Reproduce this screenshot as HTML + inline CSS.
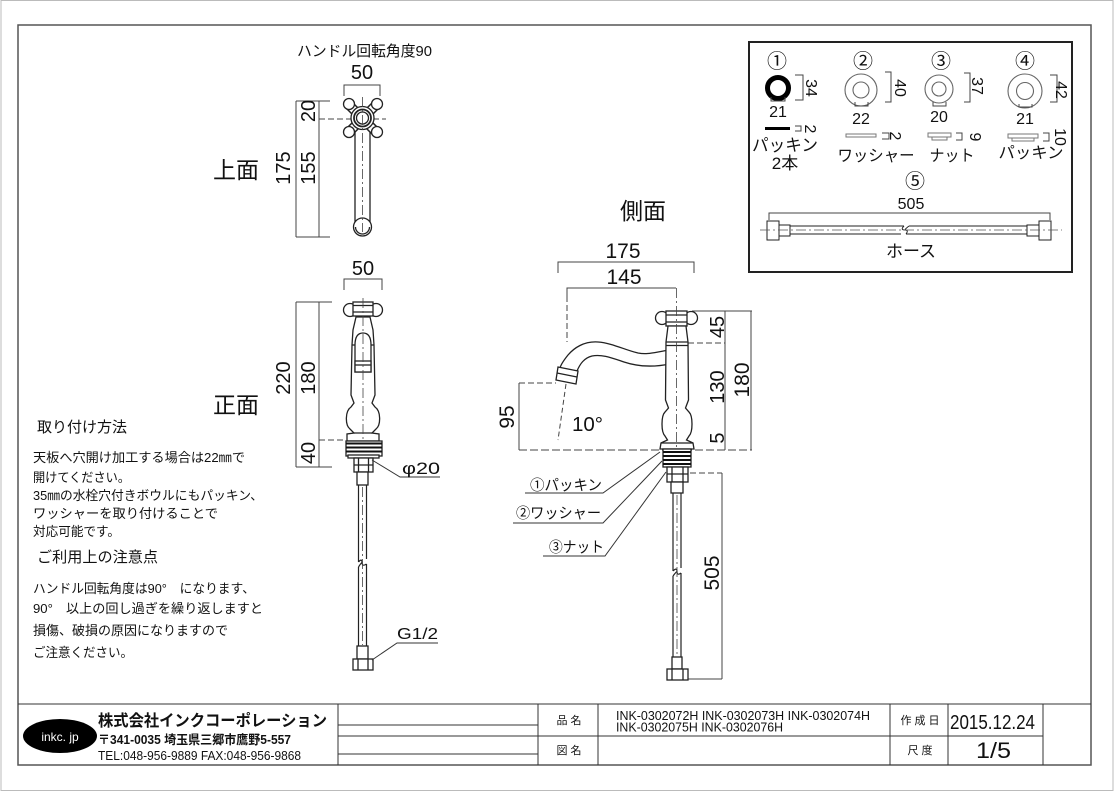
<!DOCTYPE html>
<html><head><meta charset="utf-8">
<style>
html,body{margin:0;padding:0;background:#fff;}
svg{display:block;}
text{font-family:"Liberation Sans","Noto Sans CJK JP",sans-serif;fill:#111;}
</style></head><body>
<svg width="1120" height="792" viewBox="0 0 1120 792" xmlns="http://www.w3.org/2000/svg">
<!-- frames -->
<rect x="1" y="0.5" width="1112" height="790" fill="none" stroke="#bbb" stroke-width="1"/>
<rect x="18" y="25" width="1073" height="740" fill="none" stroke="#555" stroke-width="1.5"/>

<!-- ===== Title block ===== -->
<g stroke="#333" stroke-width="1" fill="none">
<line x1="18" y1="704" x2="1091" y2="704"/>
<line x1="338" y1="704" x2="338" y2="765"/>
<line x1="538" y1="704" x2="538" y2="765"/>
<line x1="598" y1="704" x2="598" y2="765"/>
<line x1="890" y1="704" x2="890" y2="765"/>
<line x1="948" y1="704" x2="948" y2="765"/>
<line x1="1043" y1="704" x2="1043" y2="765"/>
<line x1="338" y1="725" x2="538" y2="725"/>
<line x1="338" y1="736" x2="1043" y2="736"/>
<line x1="338" y1="754" x2="538" y2="754"/>
</g>
<ellipse cx="60" cy="736" rx="37" ry="17" fill="#000"/>
<text x="60" y="741" fill="#fff" style="fill:#fff" font-size="12" text-anchor="middle">inkc. jp</text>
<text x="98" y="726" font-size="16" font-weight="bold" textLength="229" lengthAdjust="spacingAndGlyphs">株式会社インクコーポレーション</text>
<text x="98" y="744" font-size="12.5" font-weight="bold" textLength="193" lengthAdjust="spacingAndGlyphs">〒341-0035 埼玉県三郷市鷹野5-557</text>
<text x="98" y="760" font-size="12.5" textLength="203" lengthAdjust="spacingAndGlyphs">TEL:048-956-9889  FAX:048-956-9868</text>
<text x="569" y="724" font-size="11" text-anchor="middle">品 名</text>
<text x="569" y="754" font-size="11" text-anchor="middle">図 名</text>
<text x="616" y="720" font-size="12.5" textLength="254" lengthAdjust="spacingAndGlyphs">INK-0302072H INK-0302073H INK-0302074H</text>
<text x="616" y="731.5" font-size="12.5" textLength="167" lengthAdjust="spacingAndGlyphs">INK-0302075H INK-0302076H</text>
<text x="920" y="724" font-size="11" text-anchor="middle">作 成 日</text>
<text x="920" y="754" font-size="11" text-anchor="middle">尺 度</text>
<text x="950" y="729" font-size="20" textLength="85" lengthAdjust="spacingAndGlyphs">2015.12.24</text>
<text x="976" y="758" font-size="22" textLength="35" lengthAdjust="spacingAndGlyphs">1/5</text>

<!-- ===== Notes ===== -->
<text x="37" y="432" font-size="15" textLength="90" lengthAdjust="spacingAndGlyphs">取り付け方法</text>
<text x="33" y="462" font-size="13" textLength="212" lengthAdjust="spacingAndGlyphs">天板へ穴開け加工する場合は22㎜で</text>
<text x="33" y="482" font-size="13" textLength="97" lengthAdjust="spacingAndGlyphs">開けてください。</text>
<text x="33" y="500" font-size="13" textLength="230" lengthAdjust="spacingAndGlyphs">35㎜の水栓穴付きボウルにもパッキン、</text>
<text x="33" y="518" font-size="13" textLength="185" lengthAdjust="spacingAndGlyphs">ワッシャーを取り付けることで</text>
<text x="33" y="536" font-size="13" textLength="87" lengthAdjust="spacingAndGlyphs">対応可能です。</text>
<text x="37" y="562" font-size="15" textLength="121" lengthAdjust="spacingAndGlyphs">ご利用上の注意点</text>
<text x="33" y="593" font-size="13" textLength="222" lengthAdjust="spacingAndGlyphs">ハンドル回転角度は90°　になります、</text>
<text x="33" y="613" font-size="13" textLength="230" lengthAdjust="spacingAndGlyphs">90°　以上の回し過ぎを繰り返しますと</text>
<text x="33" y="635" font-size="13" textLength="195" lengthAdjust="spacingAndGlyphs">損傷、破損の原因になりますので</text>
<text x="33" y="657" font-size="13" textLength="100" lengthAdjust="spacingAndGlyphs">ご注意ください。</text>

<!-- ===== Top view ===== -->
<text x="297" y="56" font-size="15" textLength="135" lengthAdjust="spacingAndGlyphs">ハンドル回転角度90</text>
<text x="362" y="79" font-size="20" text-anchor="middle">50</text>
<text x="213" y="178" font-size="23" textLength="46" lengthAdjust="spacingAndGlyphs">上面</text>
<g stroke="#444" stroke-width="1" fill="none">
<path d="M344,96 V85 H380 V96"/>
<line x1="296" y1="101" x2="296" y2="237"/>
<line x1="319" y1="101" x2="319" y2="237"/>
<line x1="296" y1="101" x2="330" y2="101"/>
<line x1="296" y1="237" x2="330" y2="237"/>
<line x1="319" y1="119" x2="386" y2="119" stroke-dasharray="6 3"/>
</g>
<text transform="translate(283,168) rotate(-90)" x="0" y="7" font-size="20" text-anchor="middle">175</text>
<text transform="translate(308,168) rotate(-90)" x="0" y="7" font-size="20" text-anchor="middle">155</text>
<text transform="translate(308,111) rotate(-90)" x="0" y="7" font-size="20" text-anchor="middle">20</text>
<g stroke="#222" stroke-width="1.3" fill="#fff">
<rect x="355" y="126" width="15" height="98"/>
<circle cx="362.5" cy="227" r="9"/>
<path d="M355.5,227 A7,7 0 0 0 369.5,227" fill="none"/>
<line x1="349" y1="105" x2="376" y2="132" stroke-width="10"/>
<line x1="376" y1="105" x2="349" y2="132" stroke-width="10"/>
<line x1="349" y1="105" x2="376" y2="132" stroke="#fff" stroke-width="7"/>
<line x1="376" y1="105" x2="349" y2="132" stroke="#fff" stroke-width="7"/>
<circle cx="349" cy="104" r="5.5"/>
<circle cx="377" cy="104" r="5.5"/>
<circle cx="349" cy="132" r="5.5"/>
<circle cx="377" cy="132" r="5.5"/>
<circle cx="362.5" cy="118" r="11.5"/>
<circle cx="362.5" cy="118" r="8.5" stroke-width="1.8"/>
<circle cx="362.5" cy="118" r="6"/>
</g>
<line x1="362.5" y1="97" x2="362.5" y2="232" stroke="#444" stroke-width="0.8" stroke-dasharray="10 3 2 3"/>

<!-- ===== Front view ===== -->
<text x="363" y="275" font-size="20" text-anchor="middle">50</text>
<text x="213" y="413" font-size="23" textLength="46" lengthAdjust="spacingAndGlyphs">正面</text>
<g stroke="#444" stroke-width="1" fill="none">
<path d="M344,290 V279 H382 V290"/>
<line x1="296" y1="302" x2="296" y2="467"/>
<line x1="319" y1="302" x2="319" y2="467"/>
<line x1="296" y1="302" x2="332" y2="302"/>
<line x1="296" y1="467" x2="332" y2="467"/>
<line x1="319" y1="440" x2="346" y2="440" stroke-dasharray="6 3"/>
</g>
<text transform="translate(283,378) rotate(-90)" x="0" y="7" font-size="20" text-anchor="middle">220</text>
<text transform="translate(308,378) rotate(-90)" x="0" y="7" font-size="20" text-anchor="middle">180</text>
<text transform="translate(308,453) rotate(-90)" x="0" y="7" font-size="20" text-anchor="middle">40</text>
<g stroke="#222" stroke-width="1.3" fill="#fff">
<circle cx="350" cy="310" r="6.5"/>
<circle cx="376" cy="310" r="6.5"/>
<rect x="353" y="302" width="20" height="14"/>
<line x1="353" y1="305.5" x2="373" y2="305.5"/>
<line x1="353" y1="312" x2="373" y2="312"/>
<path d="M356,317 L370,317 L373,330 L374,345 L375,395 L372,403 L375,407 C381,411 381,425 376,429 L372,433 L379,434 L379,441 L347,441 L347,434 L354,433 L350,429 C345,425 345,411 351,407 L354,403 L351,395 L352,345 L353,330 Z"/>
<line x1="352" y1="345" x2="374" y2="345"/>
<line x1="354" y1="433" x2="372" y2="433"/>
<path d="M355,372 L355,345 Q355,333 363,333 Q371,333 371,345 L371,372 Z"/>
<rect x="355" y="361" width="16" height="11"/>
<line x1="355" y1="365" x2="371" y2="365"/>
<rect x="346" y="441" width="36" height="15"/>
<rect x="348" y="455" width="31" height="3"/>
<rect x="354" y="458" width="19" height="14"/>
<line x1="358.5" y1="458" x2="358.5" y2="472"/>
<line x1="368.5" y1="458" x2="368.5" y2="472"/>
<line x1="354" y1="465" x2="373" y2="465"/>
<rect x="357" y="472" width="11" height="13"/>
<rect x="357" y="646" width="11" height="13"/>
<rect x="353" y="659" width="20" height="11"/>
<line x1="358" y1="659" x2="358" y2="670"/>
<line x1="368" y1="659" x2="368" y2="670"/>
</g>
<g stroke="#111" stroke-width="2">
<line x1="346" y1="443.5" x2="382" y2="443.5"/>
<line x1="346" y1="447.5" x2="382" y2="447.5"/>
<line x1="346" y1="451.5" x2="382" y2="451.5"/>
</g>
<g stroke="#222" stroke-width="1.2" fill="none">
<line x1="358.5" y1="485" x2="358.5" y2="562"/>
<line x1="366.5" y1="485" x2="366.5" y2="559"/>
<line x1="358.5" y1="567" x2="358.5" y2="646"/>
<line x1="366.5" y1="564" x2="366.5" y2="646"/>
<path d="M358.5,562 Q362,558 362,562.5 Q362,567 366.5,564"/>
<path d="M358.5,567 Q361,563 362,562.5"/>
</g>
<line x1="363" y1="298" x2="363" y2="440" stroke="#444" stroke-width="0.8" stroke-dasharray="10 3 2 3"/>
<line x1="362.5" y1="487" x2="362.5" y2="645" stroke="#444" stroke-width="0.8" stroke-dasharray="10 3 2 3"/>
<g stroke="#333" stroke-width="1" fill="none">
<polyline points="372,460 400,477 440,477"/>
<polyline points="372,660 397,643 438,643"/>
</g>
<text x="402" y="474" font-size="17" textLength="38" lengthAdjust="spacingAndGlyphs">φ20</text>
<text x="397" y="639" font-size="16" textLength="41" lengthAdjust="spacingAndGlyphs">G1/2</text>

<!-- ===== Side view ===== -->
<text x="620" y="219" font-size="23" textLength="46" lengthAdjust="spacingAndGlyphs">側面</text>
<text x="623" y="258" font-size="21" text-anchor="middle">175</text>
<text x="624" y="284" font-size="21" text-anchor="middle">145</text>
<g stroke="#444" stroke-width="1" fill="none">
<path d="M558,273 V262 H694 V273"/>
<path d="M567,296 V288 H676"/>
<line x1="567" y1="296" x2="567" y2="342" stroke-dasharray="6 3"/>
<line x1="519" y1="383" x2="556" y2="383" stroke-dasharray="6 3"/>
<line x1="519" y1="383" x2="519" y2="450"/>
<line x1="519" y1="450" x2="752" y2="450" stroke-dasharray="8 3"/>
<line x1="566" y1="384" x2="558" y2="440" stroke-dasharray="5 3"/>
<line x1="692" y1="311" x2="752" y2="311"/>
<line x1="725" y1="311" x2="725" y2="450"/>
<line x1="751" y1="311" x2="751" y2="450"/>
<line x1="688" y1="343" x2="725" y2="343" stroke-dasharray="6 3"/>
<line x1="690" y1="473" x2="722" y2="473" stroke-dasharray="6 3"/>
<line x1="722" y1="473" x2="722" y2="679"/>
<line x1="688" y1="679" x2="722" y2="679"/>
</g>
<text transform="translate(507,417) rotate(-90)" x="0" y="7" font-size="21" text-anchor="middle">95</text>
<text x="572" y="431" font-size="20" textLength="31" lengthAdjust="spacingAndGlyphs">10°</text>
<text transform="translate(717,327) rotate(-90)" x="0" y="7" font-size="20" text-anchor="middle">45</text>
<text transform="translate(717,387) rotate(-90)" x="0" y="7" font-size="20" text-anchor="middle">130</text>
<text transform="translate(717,438) rotate(-90)" x="0" y="7" font-size="20" text-anchor="middle">5</text>
<text transform="translate(742,380) rotate(-90)" x="0" y="7" font-size="21" text-anchor="middle">180</text>
<text transform="translate(712,573) rotate(-90)" x="0" y="7" font-size="21" text-anchor="middle">505</text>
<g stroke="#222" stroke-width="1.3" fill="#fff">
<path d="M670,350 C655,352 648,355 638,353 C625,350 612,343 598,342 C584,341 574,348 568,355 C564,360 561,364 560,368 L577,371 C580,364 584,358 592,356 C602,354 612,358 624,362 C636,366 650,368 670,364 Z"/>
<polygon points="558,367 578,371 576,384 556,380"/>
<line x1="557" y1="373" x2="577" y2="377"/>
<circle cx="662" cy="318" r="6.5"/>
<circle cx="691" cy="318" r="6.5"/>
<rect x="666" y="311" width="21" height="15"/>
<line x1="666" y1="315" x2="687" y2="315"/>
<line x1="666" y1="322" x2="687" y2="322"/>
<path d="M668,326 L686,326 L688,342 L688.5,400 L685.5,408 L689,412 C693,416 693,432 689,436 L686.5,440 L693,443 L694,449 L660,449 L661,443 L667.5,440 L665,436 C661,432 661,416 665,412 L668.5,408 L665.5,400 L666,342 Z"/>
<line x1="666" y1="342" x2="688" y2="342"/>
<line x1="666" y1="345.5" x2="688" y2="345.5"/>
<line x1="661" y1="443" x2="693" y2="443"/>
<rect x="663" y="449" width="28" height="18"/>
<rect x="667" y="467" width="21" height="15"/>
<line x1="672" y1="467" x2="672" y2="482"/>
<line x1="683" y1="467" x2="683" y2="482"/>
<line x1="667" y1="474" x2="688" y2="474"/>
<rect x="671" y="482" width="12" height="11"/>
<rect x="672" y="657" width="10" height="12"/>
<rect x="667" y="669" width="21" height="11"/>
<line x1="672" y1="669" x2="672" y2="680"/>
<line x1="683" y1="669" x2="683" y2="680"/>
</g>
<g stroke="#111" stroke-width="2">
<line x1="663" y1="452" x2="691" y2="452"/>
<line x1="663" y1="456" x2="691" y2="456"/>
<line x1="663" y1="460" x2="691" y2="460"/>
<line x1="663" y1="464" x2="691" y2="464"/>
</g>
<g stroke="#222" stroke-width="1.2" fill="none">
<line x1="673" y1="493" x2="673" y2="571"/>
<line x1="681" y1="493" x2="681" y2="568"/>
<line x1="673" y1="576" x2="673" y2="657"/>
<line x1="681" y1="573" x2="681" y2="657"/>
<path d="M673,571 Q677,567 677,571.5 Q677,576 681,573"/>
<path d="M673,576 Q676,572 677,571.5"/>
</g>
<line x1="676.5" y1="288" x2="676.5" y2="447" stroke="#444" stroke-width="0.8" stroke-dasharray="10 3 2 3"/>
<line x1="677" y1="495" x2="677" y2="656" stroke="#444" stroke-width="0.8" stroke-dasharray="10 3 2 3"/>
<!-- leaders -->
<g stroke="#333" stroke-width="1" fill="none">
<polyline points="525,493 603,493 660,452"/>
<polyline points="513,523 603,523 662,461"/>
<polyline points="543,556 605,556 666,472"/>
</g>
<text x="530" y="490" font-size="15" textLength="72" lengthAdjust="spacingAndGlyphs">①パッキン</text>
<text x="516" y="518" font-size="15" textLength="85" lengthAdjust="spacingAndGlyphs">②ワッシャー</text>
<text x="549" y="552" font-size="15" textLength="55" lengthAdjust="spacingAndGlyphs">③ナット</text>

<!-- ===== Parts box ===== -->
<rect x="749" y="42" width="323" height="230" fill="none" stroke="#222" stroke-width="2"/>
<text x="777" y="68" font-size="20" text-anchor="middle">①</text>
<text x="863" y="68" font-size="20" text-anchor="middle">②</text>
<text x="941" y="68" font-size="20" text-anchor="middle">③</text>
<text x="1025" y="68" font-size="20" text-anchor="middle">④</text>
<circle cx="778" cy="88" r="10.5" fill="none" stroke="#000" stroke-width="5"/>
<g stroke="#666" stroke-width="1.1" fill="none">
<circle cx="861" cy="90" r="16"/>
<circle cx="861" cy="90" r="8"/>
<circle cx="939" cy="89" r="14"/>
<circle cx="939" cy="89" r="7"/>
<circle cx="1025" cy="91" r="17"/>
<circle cx="1025" cy="91" r="8.5"/>
</g>
<g stroke="#444" stroke-width="1" fill="none">
<path d="M795,75 H803 V100 H795"/>
<path d="M771,97 V101 H785 V97"/>
<path d="M885,72 H891 V102 H885"/>
<path d="M855,102 V106 H868 V102"/>
<path d="M964,73 H970 V102 H964"/>
<path d="M933,102 V106 H946 V102"/>
<path d="M1050,75 H1057 V102 H1050"/>
<path d="M1019,104 V107 H1032 V104"/>
<path d="M795,126 H801 V131 H795"/>
<path d="M882,133 H889 V139 H882"/>
<path d="M956,133 H962 V140 H956"/>
<path d="M1043,133 H1049 V141 H1043"/>
<path d="M769,220 V213 H1050 V220"/>
</g>
<text transform="translate(812,88) rotate(90)" x="0" y="6" font-size="16" text-anchor="middle">34</text>
<text transform="translate(901,88) rotate(90)" x="0" y="6" font-size="16" text-anchor="middle">40</text>
<text transform="translate(978,86) rotate(90)" x="0" y="6" font-size="16" text-anchor="middle">37</text>
<text transform="translate(1062,90) rotate(90)" x="0" y="6" font-size="16" text-anchor="middle">42</text>
<text x="778" y="117" font-size="16" text-anchor="middle">21</text>
<text x="861" y="124" font-size="16" text-anchor="middle">22</text>
<text x="939" y="122" font-size="16" text-anchor="middle">20</text>
<text x="1025" y="124" font-size="16" text-anchor="middle">21</text>
<rect x="765" y="127" width="25" height="3" fill="#000"/>
<g stroke="#777" stroke-width="1" fill="none">
<rect x="846" y="134" width="30" height="3"/>
<rect x="928" y="133" width="23" height="4"/>
<rect x="932" y="137" width="15" height="3"/>
<rect x="1008" y="134" width="30" height="4"/>
<rect x="1012" y="138" width="22" height="3"/>
</g>
<text transform="translate(811,129) rotate(90)" x="0" y="6" font-size="16" text-anchor="middle">2</text>
<text transform="translate(896,136) rotate(90)" x="0" y="6" font-size="16" text-anchor="middle">2</text>
<text transform="translate(976,137) rotate(90)" x="0" y="6" font-size="16" text-anchor="middle">9</text>
<text transform="translate(1061,137) rotate(90)" x="0" y="6" font-size="16" text-anchor="middle">10</text>
<text x="785" y="151" font-size="17" text-anchor="middle" textLength="66" lengthAdjust="spacingAndGlyphs">パッキン</text>
<text x="785" y="169" font-size="17" text-anchor="middle">2本</text>
<text x="876" y="161" font-size="16" text-anchor="middle" textLength="77" lengthAdjust="spacingAndGlyphs">ワッシャー</text>
<text x="952" y="161" font-size="16" text-anchor="middle" textLength="45" lengthAdjust="spacingAndGlyphs">ナット</text>
<text x="1031" y="158" font-size="16" text-anchor="middle" textLength="65" lengthAdjust="spacingAndGlyphs">パッキン</text>
<text x="915" y="188" font-size="20" text-anchor="middle">⑤</text>
<text x="911" y="209" font-size="16" text-anchor="middle">505</text>
<g stroke="#222" stroke-width="1" fill="#fff">
<rect x="767" y="221" width="12" height="19"/>
<rect x="779" y="225" width="11" height="11"/>
<rect x="1027" y="225" width="12" height="11"/>
<rect x="1039" y="221" width="12" height="19"/>
<line x1="790" y1="226" x2="904" y2="226"/>
<line x1="790" y1="234" x2="901" y2="234"/>
<line x1="909" y1="226" x2="1027" y2="226"/>
<line x1="906" y1="234" x2="1027" y2="234"/>
<path d="M904,226 Q900,230 905,230 Q909,230 906,234" fill="none"/>
<path d="M909,226 Q905,229 905,230" fill="none"/>
</g>
<line x1="760" y1="230" x2="1062" y2="230" stroke="#555" stroke-width="0.8" stroke-dasharray="10 3 2 3"/>
<text x="911" y="257" font-size="17" text-anchor="middle" textLength="50" lengthAdjust="spacingAndGlyphs">ホース</text>
</svg>
</body></html>
